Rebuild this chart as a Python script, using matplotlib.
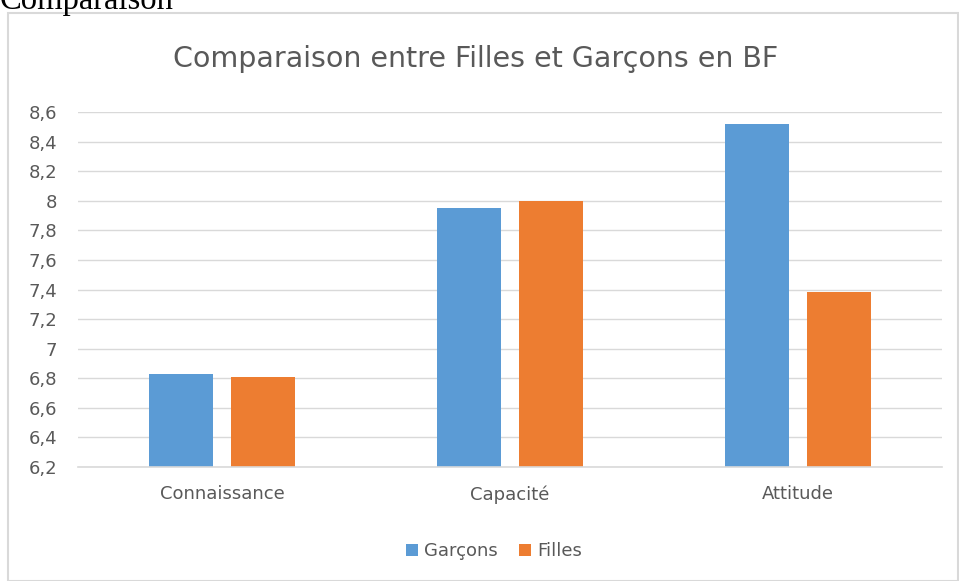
import matplotlib
matplotlib.use("Agg")
import matplotlib.pyplot as plt
from matplotlib.patches import Rectangle
import numpy as np

categories = ["Connaissance", "Capacité", "Attitude"]
garcons = [6.83, 7.95, 8.52]
filles = [6.81, 8.00, 7.38]
series_names = ["Garçons", "Filles"]
colors = ["#5B9BD5", "#ED7D31"]
yticks = [6.2, 6.4, 6.6, 6.8, 7.0, 7.2, 7.4, 7.6, 7.8, 8.0, 8.2, 8.4, 8.6]

W, H = 959, 581
fig = plt.figure(figsize=(W / 100, H / 100), dpi=100)
fig.patch.set_facecolor("white")

font = ["DejaVu Sans"]
txtcol = "#595959"

# outer frame
fig.patches.append(Rectangle((8 / W, 0), (958 - 8) / W, 1 - 13 / H, transform=fig.transFigure,
                             fill=False, edgecolor="#D9D9D9", linewidth=1.5))
fig.text(0 / W, 1 - 9 / H, "Comparaison", family=["Liberation Serif"], fontsize=23.5,
         ha="left", va="baseline", color="black")

ax = fig.add_axes([78 / W, 1 - 467 / H, (942 - 78) / W, (467 - 112) / H])
x = np.arange(len(categories))
off = 0.141
bw = 0.222
ax.bar(x - off, np.array(garcons) - 6.2, bw, bottom=6.2, color=colors[0], label=series_names[0], zorder=3)
ax.bar(x + off, np.array(filles) - 6.2, bw, bottom=6.2, color=colors[1], label=series_names[1], zorder=3)

ax.set_xlim(-0.5, len(categories) - 0.5)
ax.set_ylim(6.2, 8.6)
ax.set_yticks(yticks)
ax.set_yticklabels([("%g" % v).replace(".", ",") for v in yticks], family=font, fontsize=13, color=txtcol)
ax.set_xticks(x)
ax.set_xticklabels(categories, family=font, fontsize=13, color=txtcol)
ax.tick_params(axis="both", length=0)
ax.tick_params(axis="y", pad=15)
ax.tick_params(axis="x", pad=13)
ax.grid(axis="y", color="#D9D9D9", linewidth=1, zorder=0)
for s in ax.spines.values():
    s.set_visible(False)
ax.axhline(6.2, color="#D9D9D9", linewidth=1.2, zorder=4, clip_on=False)

fig.text(476 / W, 1 - 67 / H, "Comparaison entre Filles et Garçons en BF", family=font,
         fontsize=20.5, color=txtcol, ha="center", va="baseline")

leg = fig.legend(loc="center", bbox_to_anchor=(494 / W, 1 - 551 / H), ncol=2, frameon=False,
                 prop={"family": font, "size": 13}, handlelength=0.65, handleheight=0.65,
                 handletextpad=0.35, columnspacing=1.2)
for t in leg.get_texts():
    t.set_color(txtcol)

fig.savefig("out.png", dpi=100)
